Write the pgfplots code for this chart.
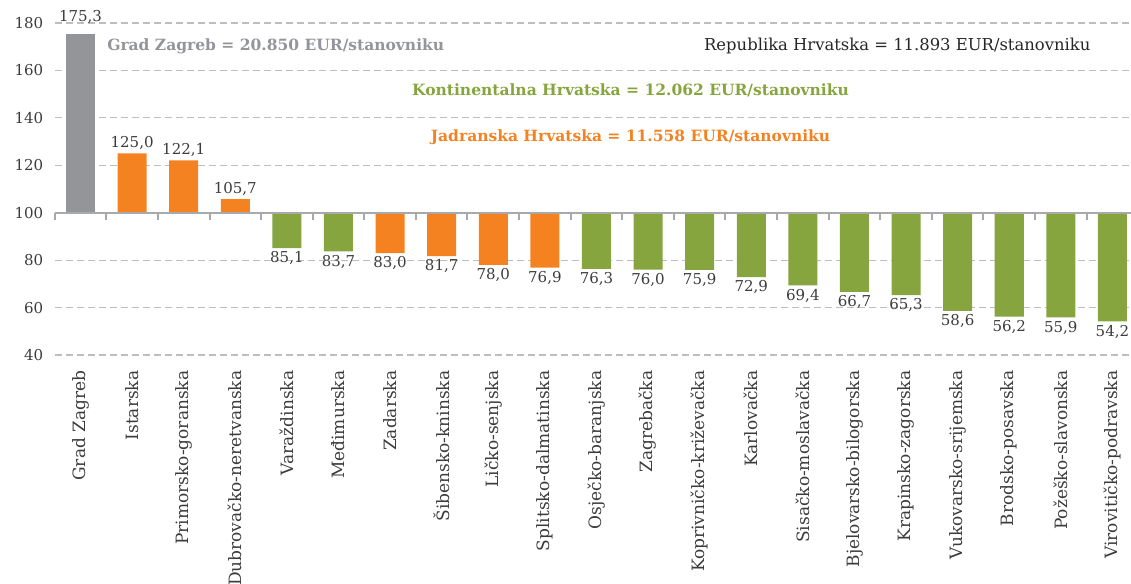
\documentclass[border=0pt]{standalone}
\usepackage{pgfplots}
\pgfplotsset{compat=1.18}
\usepackage{pgfplotstable}
\usepackage{fontspec}
\setmainfont{DejaVu Serif}
\definecolor{cgrey}{RGB}{147,149,152}
\definecolor{corange}{RGB}{244,130,32}
\definecolor{cgreen}{RGB}{134,165,62}
\definecolor{ctext}{RGB}{60,60,62}
\definecolor{cgrid}{RGB}{188,190,192}
\definecolor{caxis}{RGB}{167,169,172}
\pgfplotstableread{
x v
0 175.3
}\tgrey
\pgfplotstableread{
x v
1 125.0
2 122.1
3 105.7
}\torangeup
\pgfplotstableread{
x v
6 83.0
7 81.7
8 78.0
9 76.9
}\torangedown
\pgfplotstableread{
x v
4 85.1
5 83.7
10 76.3
11 76.0
12 75.9
13 72.9
14 69.4
15 66.7
16 65.3
17 58.6
18 56.2
19 55.9
20 54.2
}\tgreen
\begin{document}
\begin{tikzpicture}
\begin{axis}[
  name=ax,
  scale only axis,
  width=1076pt, height=332pt,
  xmin=-0.5, xmax=20.36,
  ymin=-60, ymax=80,
  clip=false,
  enlargelimits=false,
  axis line style={draw=none},
  major tick length=0pt,
  /pgf/number format/assume math mode=true,
  ytick={-60,-40,-20,0,20,40,60,80},
  yticklabels={40,60,80,100,120,140,160,180},
  ymajorgrids,
  grid style={cgrid, line width=1.2pt, dash pattern=on 7pt off 4pt},
  yticklabel style={font=\fontsize{15}{17}\selectfont, text=ctext, xshift=-8pt},
  xtick={0,...,20},
  xticklabels={Grad Zagreb,Istarska,Primorsko-goranska,Dubrovačko-neretvanska,Varaždinska,Međimurska,Zadarska,Šibensko-kninska,Ličko-senjska,Splitsko-dalmatinska,Osječko-baranjska,Zagrebačka,Koprivničko-križevačka,Karlovačka,Sisačko-moslavačka,Bjelovarsko-bilogorska,Krapinsko-zagorska,Vukovarsko-srijemska,Brodsko-posavska,Požeško-slavonska,Virovitičko-podravska},
  xticklabel style={rotate=90, anchor=east, font=\fontsize{17}{19}\selectfont, text=ctext, xshift=-12pt},
  every node near coord/.append style={font=\fontsize{15}{17}\selectfont, text=ctext,
    /pgf/number format/fixed, /pgf/number format/fixed zerofill, /pgf/number format/precision=1,
    /pgf/number format/use comma, /pgf/number format/assume math mode=true},
  every axis plot/.append style={ybar, bar width=29pt, bar shift=0pt, draw=none, nodes near coords, point meta=explicit},
]
\addplot[fill=cgrey, every node near coord/.append style={yshift=7pt}]
  table[x=x, y expr=\thisrow{v}-100, meta=v] {\tgrey};
\addplot[fill=corange]
  table[x=x, y expr=\thisrow{v}-100, meta=v] {\torangeup};
\addplot[fill=corange, nodes near coords align=below]
  table[x=x, y expr=\thisrow{v}-100, meta=v] {\torangedown};
\addplot[fill=cgreen, nodes near coords align=below]
  table[x=x, y expr=\thisrow{v}-100, meta=v] {\tgreen};
\draw[caxis, line width=2.5pt] (axis cs:-0.5,0) -- (axis cs:20.36,0);
\pgfplotsforeachungrouped \xx in {-0.5,0.5,1.5,2.5,3.5,4.5,5.5,6.5,7.5,8.5,9.5,10.5,11.5,12.5,13.5,14.5,15.5,16.5,17.5,18.5,19.5}{%
  \edef\tmp{\noexpand\draw[caxis, line width=2pt] (axis cs:\xx,0) -- ([yshift=-7pt]axis cs:\xx,0);}\tmp}
\node[anchor=west, text=cgrey, font=\bfseries\fontsize{15.5}{17}\selectfont] at (axis cs:0.45,70.3) {Grad Zagreb = 20.850 EUR/stanovniku};
\node[text=black!85, font=\fontsize{16.4}{18}\selectfont] at (axis cs:15.83,70.3) {Republika Hrvatska = 11.893 EUR/stanovniku};
\node[text=cgreen, font=\bfseries\fontsize{15.5}{17}\selectfont] at (axis cs:10.66,51.7) {Kontinentalna Hrvatska = 12.062 EUR/stanovniku};
\node[text=corange, font=\bfseries\fontsize{15.5}{17}\selectfont] at (axis cs:10.66,31.9) {Jadranska Hrvatska = 11.558 EUR/stanovniku};
\end{axis}
\pgfresetboundingbox
\path[use as bounding box] ([xshift=-54.7pt,yshift=-228pt]ax.south west) rectangle ([yshift=23pt]ax.north east);
\end{tikzpicture}
\end{document}
